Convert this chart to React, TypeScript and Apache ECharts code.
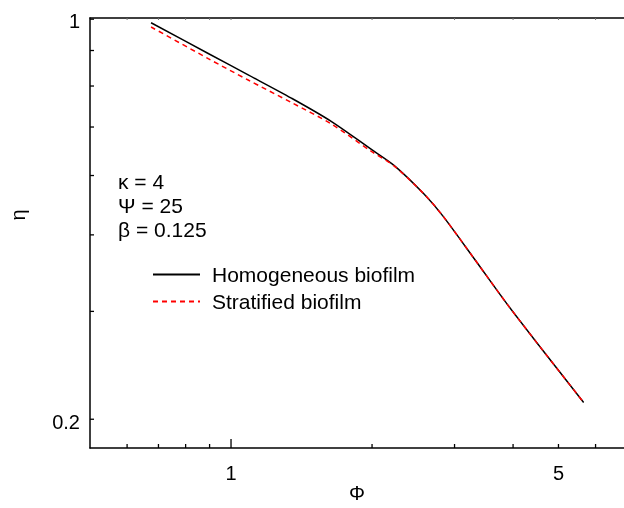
import React, { useEffect, useRef } from "react";
import * as echarts from "echarts";

// Thiele modulus (x) and effectiveness factor (y)
const phiValues = [0.675, 0.894, 1.088, 1.345, 1.636, 1.99, 2.231, 2.585, 2.829, 3.302, 3.889, 4.578, 5.659];
const etaHomogeneous = [0.888, 0.791, 0.73, 0.669, 0.613, 0.552, 0.519, 0.466, 0.43, 0.366, 0.308, 0.262, 0.213];
const etaStratified = [0.874, 0.776, 0.716, 0.658, 0.607, 0.548, 0.518, 0.466, 0.43, 0.366, 0.308, 0.262, 0.213];

const seriesNames = ["Homogeneous biofilm", "Stratified biofilm"];
const annotations = ["κ = 4", "Ψ = 25", "β = 0.125"];

const X_MIN = 0.5;
const X_MAX = 6.9;
const Y_MIN = 0.1795;
const Y_MAX = 0.904;

const xTicks = [0.6, 0.7, 0.8, 0.9, 1, 2, 3, 4, 5, 6];
const xMajorTicks = [1];
const xTickLabels = [
  { v: 1, t: "1" },
  { v: 5, t: "5" },
];
const yTicks = [0.2, 0.3, 0.4, 0.5, 0.6, 0.7, 0.8, 0.9];
const yTickLabels = [
  { v: 0.2, t: "0.2" },
  { v: Y_MAX, t: "1" },
];

const FONT = '"Liberation Sans", Arial, sans-serif';

export default function App() {
  const ref = useRef<HTMLDivElement>(null);
  useEffect(() => {
    if (!ref.current) return;
    const chart = echarts.init(ref.current, undefined, { renderer: "svg" });
    const txt = (text: string, x: number, y: number, align: string, size: number) => ({
      type: "text",
      x,
      y,
      style: {
        text,
        fill: "#000",
        font: `${size}px ${FONT}`,
        textAlign: align,
        align,
        textVerticalAlign: "middle",
        verticalAlign: "middle",
      },
    });
    chart.setOption({
      animation: false,
      grid: { left: 88, right: 0, top: 18, bottom: 56, containLabel: false },
      legend: {
        data: seriesNames,
        orient: "vertical",
        left: 152,
        top: 264,
        padding: 0,
        itemWidth: 47,
        itemHeight: 14,
        itemGap: 6,
        selectedMode: false,
        itemStyle: { opacity: 0 },
        textStyle: { fontSize: 21, fontFamily: FONT, color: "#000", padding: [0, 0, 0, 7] },
      },
      xAxis: [
        {
          type: "log",
          logBase: 10,
          min: X_MIN,
          max: X_MAX,
          position: "bottom",
          name: "Φ",
          nameLocation: "middle",
          nameGap: 35,
          nameTextStyle: { fontSize: 20, fontFamily: FONT, color: "#000" },
          axisLine: { show: true, lineStyle: { color: "#000", width: 1.5 } },
          axisTick: { show: false },
          axisLabel: { show: false },
          splitLine: { show: false },
          minorTick: { show: false },
        },
        {
          type: "log",
          logBase: 10,
          min: X_MIN,
          max: X_MAX,
          position: "top",
          axisLine: { show: true, lineStyle: { color: "#000", width: 1.5 } },
          axisTick: { show: false },
          axisLabel: { show: false },
          splitLine: { show: false },
        },
      ],
      yAxis: {
        type: "log",
        logBase: 10,
        min: Y_MIN,
        max: Y_MAX,
        name: "η",
        nameLocation: "middle",
        nameRotate: 90,
        nameGap: 62,
        nameTextStyle: { fontSize: 20, fontFamily: FONT, color: "#000", padding: [0, 0, 0, 36] },
        axisLine: { show: true, lineStyle: { color: "#000", width: 1.5 } },
        axisTick: { show: false },
        axisLabel: { show: false },
        splitLine: { show: false },
      },
      graphic: annotations.map((a, i) => ({
        type: "text",
        left: 118,
        top: 171 + i * 24,
        style: { text: a, fill: "#000", font: `21px ${FONT}` },
      })),
      series: [
        {
          name: seriesNames[0],
          type: "line",
          data: phiValues.map((x, i) => [x, etaHomogeneous[i]]),
          symbol: "none",
          smooth: 0.3,
          lineStyle: { color: "#000", width: 1.5, type: "solid" },
          itemStyle: { color: "#000" },
          z: 3,
        },
        {
          name: seriesNames[1],
          type: "line",
          data: phiValues.map((x, i) => [x, etaStratified[i]]),
          symbol: "none",
          smooth: 0.3,
          lineStyle: { color: "#ff0000", width: 1.5, type: [5, 4] },
          itemStyle: { color: "#ff0000" },
          z: 4,
        },
        {
          type: "custom",
          clip: false,
          silent: true,
          z: 5,
          data: xTicks.map((v) => [v, Y_MIN]),
          renderItem: (params: any, api: any) => {
            const v = xTicks[params.dataIndex];
            const p = api.coord([v, Y_MIN]);
            const q = api.coord([v, Y_MAX]);
            const len = xMajorTicks.includes(v) ? 9 : 4;
            return {
              type: "group",
              children: [
                { type: "line", shape: { x1: p[0], y1: p[1], x2: p[0], y2: p[1] - len }, style: { stroke: "#000", lineWidth: 1.3 } },
                { type: "line", shape: { x1: q[0], y1: q[1], x2: q[0], y2: q[1] + 2 }, style: { stroke: "#777", lineWidth: 1 } },
              ],
            };
          },
        },
        {
          type: "custom",
          clip: false,
          silent: true,
          z: 5,
          data: yTicks.map((v) => [X_MIN, v]),
          renderItem: (params: any, api: any) => {
            const v = yTicks[params.dataIndex];
            const p = api.coord([X_MIN, v]);
            return { type: "line", shape: { x1: p[0], y1: p[1], x2: p[0] + 4, y2: p[1] }, style: { stroke: "#000", lineWidth: 1.3 } };
          },
        },
        {
          type: "custom",
          clip: false,
          silent: true,
          z: 5,
          data: xTickLabels.map((l) => [l.v, Y_MIN]),
          renderItem: (params: any, api: any) => {
            const l = xTickLabels[params.dataIndex];
            const p = api.coord([l.v, Y_MIN]);
            return txt(l.t, p[0], p[1] + 25, "center", 20);
          },
        },
        {
          type: "custom",
          clip: false,
          silent: true,
          z: 5,
          data: yTickLabels.map((l) => [X_MIN, l.v]),
          renderItem: (params: any, api: any) => {
            const l = yTickLabels[params.dataIndex];
            const p = api.coord([X_MIN, l.v]);
            return txt(l.t, p[0] - 10, p[1] + 3, "right", 20);
          },
        },
      ],
    });
    return () => chart.dispose();
  }, []);
  return <div ref={ref} style={{ position: "fixed", left: 0, top: 0, width: 624, height: 508 }} />;
}
